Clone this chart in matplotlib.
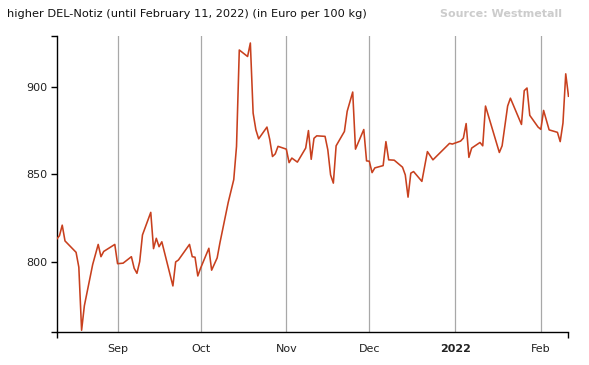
import numpy as np
import matplotlib.pyplot as plt

# higher DEL-Notiz, Euro per 100 kg
dates = [
    '2021-08-10', '2021-08-11', '2021-08-12', '2021-08-13', '2021-08-17', '2021-08-18',
    '2021-08-19', '2021-08-20', '2021-08-23', '2021-08-25', '2021-08-26', '2021-08-27',
    '2021-08-31', '2021-09-01', '2021-09-03', '2021-09-06', '2021-09-07', '2021-09-08',
    '2021-09-09', '2021-09-10', '2021-09-13', '2021-09-14', '2021-09-15', '2021-09-16',
    '2021-09-17', '2021-09-21', '2021-09-22', '2021-09-23', '2021-09-27', '2021-09-28',
    '2021-09-29', '2021-09-30', '2021-10-01', '2021-10-04', '2021-10-05', '2021-10-07',
    '2021-10-08', '2021-10-11', '2021-10-13', '2021-10-14', '2021-10-15', '2021-10-18',
    '2021-10-19', '2021-10-20', '2021-10-21', '2021-10-22', '2021-10-25', '2021-10-26',
    '2021-10-27', '2021-10-28', '2021-10-29', '2021-11-01', '2021-11-02', '2021-11-03',
    '2021-11-05', '2021-11-08', '2021-11-09', '2021-11-10', '2021-11-11', '2021-11-12',
    '2021-11-15', '2021-11-16', '2021-11-17', '2021-11-18', '2021-11-19', '2021-11-22',
    '2021-11-23', '2021-11-25', '2021-11-26', '2021-11-29', '2021-11-30', '2021-12-01',
    '2021-12-02', '2021-12-03', '2021-12-06', '2021-12-07', '2021-12-08', '2021-12-10',
    '2021-12-13', '2021-12-14', '2021-12-15', '2021-12-16', '2021-12-17', '2021-12-20',
    '2021-12-22', '2021-12-24', '2021-12-30', '2021-12-31', '2022-01-03', '2022-01-04',
    '2022-01-05', '2022-01-06', '2022-01-07', '2022-01-10', '2022-01-11', '2022-01-12',
    '2022-01-17', '2022-01-18', '2022-01-20', '2022-01-21', '2022-01-25', '2022-01-26',
    '2022-01-27', '2022-01-28', '2022-01-31', '2022-02-01', '2022-02-02', '2022-02-04',
    '2022-02-07', '2022-02-08', '2022-02-09', '2022-02-10', '2022-02-11',
]
prices = [
    813, 815, 821, 812, 805.5, 797,
    761, 775, 798.5, 810, 803, 806,
    810, 799, 799.3, 803, 796.4, 793.5,
    800.2, 815.4, 828.3, 807.6, 813.5, 808.7,
    811.5, 786.3, 800, 801.1, 810, 803,
    802.7, 792, 796.4, 807.8, 795.3, 802.3,
    810.9, 834, 847, 866, 921, 917.3,
    925, 885, 875.4, 870.3, 877, 870,
    860.2, 861.7, 866, 864.4, 856.7, 859.3,
    857, 865, 875, 858.6, 870.6, 872,
    871.7, 864, 849.7, 845, 866.3, 874.5,
    886, 897, 864.4, 875.6, 857.7, 857.5,
    851, 853.7, 855, 868.7, 858.3, 858.1,
    854.1, 849.7, 837, 850.7, 851.6, 846,
    863, 858.3, 867.7, 867.3, 869, 870.7,
    879, 859.7, 865, 868.2, 866.3, 889,
    862.5, 866.3, 889, 893.5, 878.5, 897.8,
    899.3, 883.7, 877, 875.7, 886.5, 875.4,
    874, 868.7, 879.3, 907.4, 894.6,
]

month_ticks = ['2021-09-01', '2021-10-01', '2021-11-01', '2021-12-01', '2022-01-01', '2022-02-01']
month_labels = ['Sep', 'Oct', 'Nov', 'Dec', '2022', 'Feb']
y_ticks = [800, 850, 900]

x = np.array(dates, dtype='datetime64[D]')
mt = np.array(month_ticks, dtype='datetime64[D]')

fig = plt.figure(figsize=(5.89, 3.65), dpi=100)
ax = fig.add_axes([56.7 / 589, 33 / 365, (568.5 - 56.7) / 589, (332 - 36) / 365])

ax.plot(x, prices, color='#c8401e', lw=1.15, zorder=3)
ax.set_xlim(x[0], x[-1])
ax.set_ylim(760, 929)

# month grid lines
for m in mt:
    ax.axvline(m, color='#a8a8a8', lw=0.9, zorder=1)

ax.set_xticks(mt)
ax.set_xticklabels(month_labels)
ax.set_yticks(y_ticks)
ax.set_yticklabels([str(v) for v in y_ticks])
# domain end ticks, like the original chart
ax.set_xticks([x[0], x[-1]], minor=True)
ax.set_yticks([760, 929], minor=True)

ax.tick_params(axis='x', which='major', length=0, pad=9, labelsize=8, colors='#222222')
ax.tick_params(axis='x', which='minor', length=4.5, width=1)
ax.tick_params(axis='y', which='major', length=4.5, width=1, pad=2, labelsize=8, colors='#222222')
ax.tick_params(axis='y', which='minor', length=4.5, width=1)
ax.tick_params(axis='both', color='black')

for lab in ax.get_xticklabels():
    if lab.get_text() == '2022':
        lab.set_fontweight('bold')

for s in ['top', 'right']:
    ax.spines[s].set_visible(False)
for s in ['left', 'bottom']:
    ax.spines[s].set_linewidth(1)

fig.text(7 / 589, 1 - 14 / 365, 'higher DEL-Notiz (until February 11, 2022) (in Euro per 100 kg)',
         fontsize=8.2, va='center', ha='left', color='#111111')
fig.text(562 / 589, 1 - 14 / 365, 'Source: Westmetall', fontsize=8, fontweight='bold',
         va='center', ha='right', color='#cccccc')

fig.savefig('out.png', dpi=100)
